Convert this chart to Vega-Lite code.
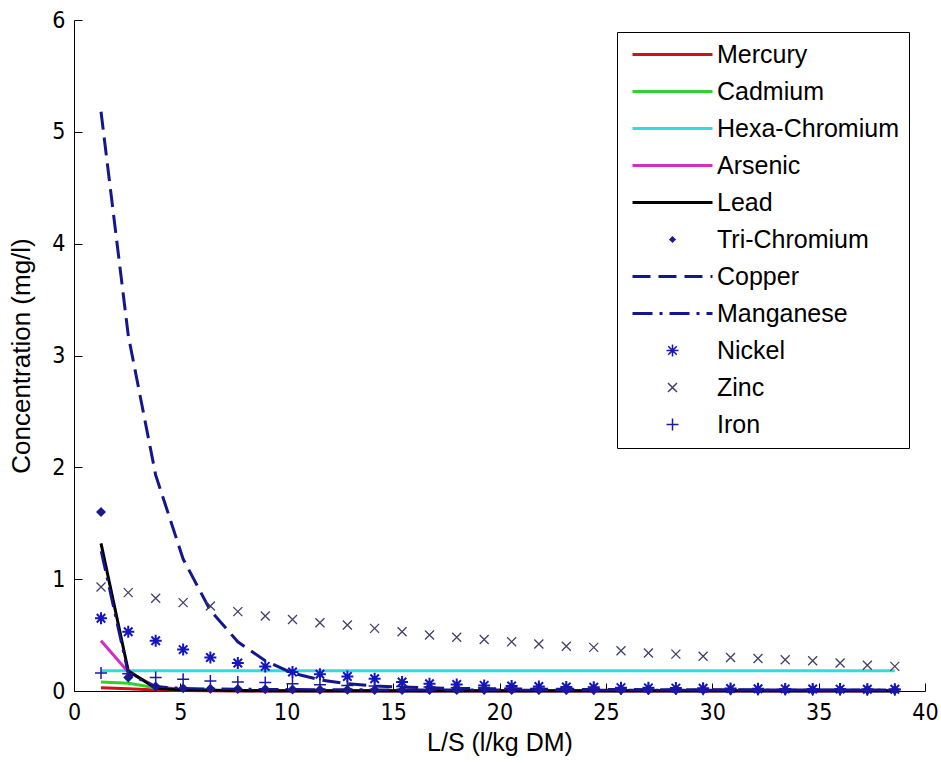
{
  "$schema": "https://vega.github.io/schema/vega-lite/v6.json",
  "width": 851,
  "height": 671,
  "autosize": {"type": "none"},
  "padding": {"left": 74, "top": 20, "right": 16, "bottom": 72},
  "background": "white",
  "config": {
    "view": {"stroke": null},
    "axis": {
      "grid": false,
      "domainColor": "black",
      "domainWidth": 1,
      "tickColor": "black",
      "tickWidth": 1,
      "tickSize": -8,
      "labelColor": "black",
      "labelFont": "Liberation Sans Narrow, DejaVu Sans Condensed, Liberation Sans",
      "labelFontSize": 23,
      "labelFlush": false,
      "labelOverlap": false,
      "titleColor": "black",
      "titleFont": "Liberation Sans",
      "titleFontSize": 25,
      "titleFontWeight": "normal"
    }
  },
  "data": {"values": [
    {"metal":"Mercury","ls":1.27,"conc":0.03},{"metal":"Mercury","ls":2.55,"conc":0.02},{"metal":"Mercury","ls":3.84,"conc":0.008},{"metal":"Mercury","ls":5.13,"conc":0.004},{"metal":"Mercury","ls":6.41,"conc":0.002},{"metal":"Mercury","ls":7.7,"conc":0.001},{"metal":"Mercury","ls":8.99,"conc":0.001},{"metal":"Mercury","ls":10.27,"conc":0.001},{"metal":"Mercury","ls":11.56,"conc":0.001},{"metal":"Mercury","ls":12.85,"conc":0.001},{"metal":"Mercury","ls":14.13,"conc":0.001},{"metal":"Mercury","ls":15.42,"conc":0.001},{"metal":"Mercury","ls":16.71,"conc":0.001},{"metal":"Mercury","ls":17.99,"conc":0.001},{"metal":"Mercury","ls":19.28,"conc":0.001},{"metal":"Mercury","ls":20.57,"conc":0.001},{"metal":"Mercury","ls":21.85,"conc":0.001},{"metal":"Mercury","ls":23.14,"conc":0.001},{"metal":"Mercury","ls":24.43,"conc":0.001},{"metal":"Mercury","ls":25.71,"conc":0.001},{"metal":"Mercury","ls":27.0,"conc":0.001},{"metal":"Mercury","ls":28.29,"conc":0.001},{"metal":"Mercury","ls":29.57,"conc":0.001},{"metal":"Mercury","ls":30.86,"conc":0.001},{"metal":"Mercury","ls":32.15,"conc":0.001},{"metal":"Mercury","ls":33.43,"conc":0.001},{"metal":"Mercury","ls":34.72,"conc":0.001},{"metal":"Mercury","ls":36.01,"conc":0.001},{"metal":"Mercury","ls":37.29,"conc":0.001},{"metal":"Mercury","ls":38.58,"conc":0.001},
    {"metal":"Cadmium","ls":1.27,"conc":0.08},{"metal":"Cadmium","ls":2.55,"conc":0.07},{"metal":"Cadmium","ls":3.84,"conc":0.03},{"metal":"Cadmium","ls":5.13,"conc":0.012},{"metal":"Cadmium","ls":6.41,"conc":0.006},{"metal":"Cadmium","ls":7.7,"conc":0.003},{"metal":"Cadmium","ls":8.99,"conc":0.002},{"metal":"Cadmium","ls":10.27,"conc":0.001},{"metal":"Cadmium","ls":11.56,"conc":0.001},{"metal":"Cadmium","ls":12.85,"conc":0.001},{"metal":"Cadmium","ls":14.13,"conc":0.001},{"metal":"Cadmium","ls":15.42,"conc":0.001},{"metal":"Cadmium","ls":16.71,"conc":0.001},{"metal":"Cadmium","ls":17.99,"conc":0.001},{"metal":"Cadmium","ls":19.28,"conc":0.001},{"metal":"Cadmium","ls":20.57,"conc":0.001},{"metal":"Cadmium","ls":21.85,"conc":0.001},{"metal":"Cadmium","ls":23.14,"conc":0.001},{"metal":"Cadmium","ls":24.43,"conc":0.001},{"metal":"Cadmium","ls":25.71,"conc":0.001},{"metal":"Cadmium","ls":27.0,"conc":0.001},{"metal":"Cadmium","ls":28.29,"conc":0.001},{"metal":"Cadmium","ls":29.57,"conc":0.001},{"metal":"Cadmium","ls":30.86,"conc":0.001},{"metal":"Cadmium","ls":32.15,"conc":0.001},{"metal":"Cadmium","ls":33.43,"conc":0.001},{"metal":"Cadmium","ls":34.72,"conc":0.001},{"metal":"Cadmium","ls":36.01,"conc":0.001},{"metal":"Cadmium","ls":37.29,"conc":0.001},{"metal":"Cadmium","ls":38.58,"conc":0.001},
    {"metal":"Hexa-Chromium","ls":1.27,"conc":0.18},{"metal":"Hexa-Chromium","ls":2.55,"conc":0.18},{"metal":"Hexa-Chromium","ls":3.84,"conc":0.18},{"metal":"Hexa-Chromium","ls":5.13,"conc":0.18},{"metal":"Hexa-Chromium","ls":6.41,"conc":0.18},{"metal":"Hexa-Chromium","ls":7.7,"conc":0.18},{"metal":"Hexa-Chromium","ls":8.99,"conc":0.18},{"metal":"Hexa-Chromium","ls":10.27,"conc":0.18},{"metal":"Hexa-Chromium","ls":11.56,"conc":0.18},{"metal":"Hexa-Chromium","ls":12.85,"conc":0.18},{"metal":"Hexa-Chromium","ls":14.13,"conc":0.18},{"metal":"Hexa-Chromium","ls":15.42,"conc":0.18},{"metal":"Hexa-Chromium","ls":16.71,"conc":0.18},{"metal":"Hexa-Chromium","ls":17.99,"conc":0.18},{"metal":"Hexa-Chromium","ls":19.28,"conc":0.18},{"metal":"Hexa-Chromium","ls":20.57,"conc":0.18},{"metal":"Hexa-Chromium","ls":21.85,"conc":0.18},{"metal":"Hexa-Chromium","ls":23.14,"conc":0.18},{"metal":"Hexa-Chromium","ls":24.43,"conc":0.18},{"metal":"Hexa-Chromium","ls":25.71,"conc":0.18},{"metal":"Hexa-Chromium","ls":27.0,"conc":0.18},{"metal":"Hexa-Chromium","ls":28.29,"conc":0.18},{"metal":"Hexa-Chromium","ls":29.57,"conc":0.18},{"metal":"Hexa-Chromium","ls":30.86,"conc":0.18},{"metal":"Hexa-Chromium","ls":32.15,"conc":0.18},{"metal":"Hexa-Chromium","ls":33.43,"conc":0.18},{"metal":"Hexa-Chromium","ls":34.72,"conc":0.18},{"metal":"Hexa-Chromium","ls":36.01,"conc":0.18},{"metal":"Hexa-Chromium","ls":37.29,"conc":0.18},{"metal":"Hexa-Chromium","ls":38.58,"conc":0.18},
    {"metal":"Arsenic","ls":1.27,"conc":0.45},{"metal":"Arsenic","ls":2.55,"conc":0.17},{"metal":"Arsenic","ls":3.84,"conc":0.04},{"metal":"Arsenic","ls":5.13,"conc":0.012},{"metal":"Arsenic","ls":6.41,"conc":0.005},{"metal":"Arsenic","ls":7.7,"conc":0.003},{"metal":"Arsenic","ls":8.99,"conc":0.002},{"metal":"Arsenic","ls":10.27,"conc":0.001},{"metal":"Arsenic","ls":11.56,"conc":0.001},{"metal":"Arsenic","ls":12.85,"conc":0.001},{"metal":"Arsenic","ls":14.13,"conc":0.001},{"metal":"Arsenic","ls":15.42,"conc":0.001},{"metal":"Arsenic","ls":16.71,"conc":0.001},{"metal":"Arsenic","ls":17.99,"conc":0.001},{"metal":"Arsenic","ls":19.28,"conc":0.001},{"metal":"Arsenic","ls":20.57,"conc":0.001},{"metal":"Arsenic","ls":21.85,"conc":0.001},{"metal":"Arsenic","ls":23.14,"conc":0.001},{"metal":"Arsenic","ls":24.43,"conc":0.001},{"metal":"Arsenic","ls":25.71,"conc":0.001},{"metal":"Arsenic","ls":27.0,"conc":0.001},{"metal":"Arsenic","ls":28.29,"conc":0.001},{"metal":"Arsenic","ls":29.57,"conc":0.001},{"metal":"Arsenic","ls":30.86,"conc":0.001},{"metal":"Arsenic","ls":32.15,"conc":0.001},{"metal":"Arsenic","ls":33.43,"conc":0.001},{"metal":"Arsenic","ls":34.72,"conc":0.001},{"metal":"Arsenic","ls":36.01,"conc":0.001},{"metal":"Arsenic","ls":37.29,"conc":0.001},{"metal":"Arsenic","ls":38.58,"conc":0.001},
    {"metal":"Lead","ls":1.27,"conc":1.32},{"metal":"Lead","ls":2.55,"conc":0.18},{"metal":"Lead","ls":3.84,"conc":0.025},{"metal":"Lead","ls":5.13,"conc":0.01},{"metal":"Lead","ls":6.41,"conc":0.006},{"metal":"Lead","ls":7.7,"conc":0.004},{"metal":"Lead","ls":8.99,"conc":0.003},{"metal":"Lead","ls":10.27,"conc":0.002},{"metal":"Lead","ls":11.56,"conc":0.002},{"metal":"Lead","ls":12.85,"conc":0.002},{"metal":"Lead","ls":14.13,"conc":0.002},{"metal":"Lead","ls":15.42,"conc":0.002},{"metal":"Lead","ls":16.71,"conc":0.002},{"metal":"Lead","ls":17.99,"conc":0.002},{"metal":"Lead","ls":19.28,"conc":0.002},{"metal":"Lead","ls":20.57,"conc":0.002},{"metal":"Lead","ls":21.85,"conc":0.002},{"metal":"Lead","ls":23.14,"conc":0.002},{"metal":"Lead","ls":24.43,"conc":0.002},{"metal":"Lead","ls":25.71,"conc":0.002},{"metal":"Lead","ls":27.0,"conc":0.002},{"metal":"Lead","ls":28.29,"conc":0.002},{"metal":"Lead","ls":29.57,"conc":0.002},{"metal":"Lead","ls":30.86,"conc":0.002},{"metal":"Lead","ls":32.15,"conc":0.002},{"metal":"Lead","ls":33.43,"conc":0.002},{"metal":"Lead","ls":34.72,"conc":0.002},{"metal":"Lead","ls":36.01,"conc":0.002},{"metal":"Lead","ls":37.29,"conc":0.002},{"metal":"Lead","ls":38.58,"conc":0.002},
    {"metal":"Tri-Chromium","ls":1.27,"conc":1.6},{"metal":"Tri-Chromium","ls":2.55,"conc":0.12},{"metal":"Tri-Chromium","ls":3.84,"conc":0.04},{"metal":"Tri-Chromium","ls":5.13,"conc":0.025},{"metal":"Tri-Chromium","ls":6.41,"conc":0.02},{"metal":"Tri-Chromium","ls":7.7,"conc":0.017},{"metal":"Tri-Chromium","ls":8.99,"conc":0.015},{"metal":"Tri-Chromium","ls":10.27,"conc":0.013},{"metal":"Tri-Chromium","ls":11.56,"conc":0.012},{"metal":"Tri-Chromium","ls":12.85,"conc":0.011},{"metal":"Tri-Chromium","ls":14.13,"conc":0.01},{"metal":"Tri-Chromium","ls":15.42,"conc":0.01},{"metal":"Tri-Chromium","ls":16.71,"conc":0.01},{"metal":"Tri-Chromium","ls":17.99,"conc":0.01},{"metal":"Tri-Chromium","ls":19.28,"conc":0.01},{"metal":"Tri-Chromium","ls":20.57,"conc":0.01},{"metal":"Tri-Chromium","ls":21.85,"conc":0.01},{"metal":"Tri-Chromium","ls":23.14,"conc":0.01},{"metal":"Tri-Chromium","ls":24.43,"conc":0.01},{"metal":"Tri-Chromium","ls":25.71,"conc":0.01},{"metal":"Tri-Chromium","ls":27.0,"conc":0.01},{"metal":"Tri-Chromium","ls":28.29,"conc":0.01},{"metal":"Tri-Chromium","ls":29.57,"conc":0.01},{"metal":"Tri-Chromium","ls":30.86,"conc":0.01},{"metal":"Tri-Chromium","ls":32.15,"conc":0.01},{"metal":"Tri-Chromium","ls":33.43,"conc":0.01},{"metal":"Tri-Chromium","ls":34.72,"conc":0.01},{"metal":"Tri-Chromium","ls":36.01,"conc":0.01},{"metal":"Tri-Chromium","ls":37.29,"conc":0.01},{"metal":"Tri-Chromium","ls":38.58,"conc":0.01},
    {"metal":"Copper","ls":1.27,"conc":5.18},{"metal":"Copper","ls":2.55,"conc":3.18},{"metal":"Copper","ls":3.84,"conc":1.93},{"metal":"Copper","ls":5.13,"conc":1.18},{"metal":"Copper","ls":6.41,"conc":0.72},{"metal":"Copper","ls":7.7,"conc":0.44},{"metal":"Copper","ls":8.99,"conc":0.27},{"metal":"Copper","ls":10.27,"conc":0.16},{"metal":"Copper","ls":11.56,"conc":0.1},{"metal":"Copper","ls":12.85,"conc":0.065},{"metal":"Copper","ls":14.13,"conc":0.045},{"metal":"Copper","ls":15.42,"conc":0.035},{"metal":"Copper","ls":16.71,"conc":0.028},{"metal":"Copper","ls":17.99,"conc":0.023},{"metal":"Copper","ls":19.28,"conc":0.02},{"metal":"Copper","ls":20.57,"conc":0.018},{"metal":"Copper","ls":21.85,"conc":0.016},{"metal":"Copper","ls":23.14,"conc":0.015},{"metal":"Copper","ls":24.43,"conc":0.014},{"metal":"Copper","ls":25.71,"conc":0.013},{"metal":"Copper","ls":27.0,"conc":0.012},{"metal":"Copper","ls":28.29,"conc":0.012},{"metal":"Copper","ls":29.57,"conc":0.011},{"metal":"Copper","ls":30.86,"conc":0.011},{"metal":"Copper","ls":32.15,"conc":0.01},{"metal":"Copper","ls":33.43,"conc":0.01},{"metal":"Copper","ls":34.72,"conc":0.01},{"metal":"Copper","ls":36.01,"conc":0.01},{"metal":"Copper","ls":37.29,"conc":0.01},{"metal":"Copper","ls":38.58,"conc":0.01},
    {"metal":"Manganese","ls":1.27,"conc":1.25},{"metal":"Manganese","ls":2.55,"conc":0.15},{"metal":"Manganese","ls":3.84,"conc":0.04},{"metal":"Manganese","ls":5.13,"conc":0.025},{"metal":"Manganese","ls":6.41,"conc":0.02},{"metal":"Manganese","ls":7.7,"conc":0.018},{"metal":"Manganese","ls":8.99,"conc":0.016},{"metal":"Manganese","ls":10.27,"conc":0.015},{"metal":"Manganese","ls":11.56,"conc":0.014},{"metal":"Manganese","ls":12.85,"conc":0.013},{"metal":"Manganese","ls":14.13,"conc":0.012},{"metal":"Manganese","ls":15.42,"conc":0.012},{"metal":"Manganese","ls":16.71,"conc":0.011},{"metal":"Manganese","ls":17.99,"conc":0.011},{"metal":"Manganese","ls":19.28,"conc":0.011},{"metal":"Manganese","ls":20.57,"conc":0.01},{"metal":"Manganese","ls":21.85,"conc":0.01},{"metal":"Manganese","ls":23.14,"conc":0.01},{"metal":"Manganese","ls":24.43,"conc":0.01},{"metal":"Manganese","ls":25.71,"conc":0.01},{"metal":"Manganese","ls":27.0,"conc":0.01},{"metal":"Manganese","ls":28.29,"conc":0.01},{"metal":"Manganese","ls":29.57,"conc":0.01},{"metal":"Manganese","ls":30.86,"conc":0.01},{"metal":"Manganese","ls":32.15,"conc":0.01},{"metal":"Manganese","ls":33.43,"conc":0.01},{"metal":"Manganese","ls":34.72,"conc":0.01},{"metal":"Manganese","ls":36.01,"conc":0.01},{"metal":"Manganese","ls":37.29,"conc":0.01},{"metal":"Manganese","ls":38.58,"conc":0.01},
    {"metal":"Nickel","ls":1.27,"conc":0.65},{"metal":"Nickel","ls":2.55,"conc":0.53},{"metal":"Nickel","ls":3.84,"conc":0.45},{"metal":"Nickel","ls":5.13,"conc":0.37},{"metal":"Nickel","ls":6.41,"conc":0.3},{"metal":"Nickel","ls":7.7,"conc":0.25},{"metal":"Nickel","ls":8.99,"conc":0.22},{"metal":"Nickel","ls":10.27,"conc":0.17},{"metal":"Nickel","ls":11.56,"conc":0.15},{"metal":"Nickel","ls":12.85,"conc":0.13},{"metal":"Nickel","ls":14.13,"conc":0.11},{"metal":"Nickel","ls":15.42,"conc":0.08},{"metal":"Nickel","ls":16.71,"conc":0.065},{"metal":"Nickel","ls":17.99,"conc":0.058},{"metal":"Nickel","ls":19.28,"conc":0.05},{"metal":"Nickel","ls":20.57,"conc":0.045},{"metal":"Nickel","ls":21.85,"conc":0.04},{"metal":"Nickel","ls":23.14,"conc":0.036},{"metal":"Nickel","ls":24.43,"conc":0.033},{"metal":"Nickel","ls":25.71,"conc":0.03},{"metal":"Nickel","ls":27.0,"conc":0.028},{"metal":"Nickel","ls":28.29,"conc":0.026},{"metal":"Nickel","ls":29.57,"conc":0.024},{"metal":"Nickel","ls":30.86,"conc":0.022},{"metal":"Nickel","ls":32.15,"conc":0.02},{"metal":"Nickel","ls":33.43,"conc":0.019},{"metal":"Nickel","ls":34.72,"conc":0.018},{"metal":"Nickel","ls":36.01,"conc":0.017},{"metal":"Nickel","ls":37.29,"conc":0.016},{"metal":"Nickel","ls":38.58,"conc":0.015},
    {"metal":"Zinc","ls":1.27,"conc":0.93},{"metal":"Zinc","ls":2.55,"conc":0.88},{"metal":"Zinc","ls":3.84,"conc":0.83},{"metal":"Zinc","ls":5.13,"conc":0.79},{"metal":"Zinc","ls":6.41,"conc":0.76},{"metal":"Zinc","ls":7.7,"conc":0.71},{"metal":"Zinc","ls":8.99,"conc":0.67},{"metal":"Zinc","ls":10.27,"conc":0.64},{"metal":"Zinc","ls":11.56,"conc":0.61},{"metal":"Zinc","ls":12.85,"conc":0.59},{"metal":"Zinc","ls":14.13,"conc":0.56},{"metal":"Zinc","ls":15.42,"conc":0.53},{"metal":"Zinc","ls":16.71,"conc":0.5},{"metal":"Zinc","ls":17.99,"conc":0.48},{"metal":"Zinc","ls":19.28,"conc":0.46},{"metal":"Zinc","ls":20.57,"conc":0.44},{"metal":"Zinc","ls":21.85,"conc":0.42},{"metal":"Zinc","ls":23.14,"conc":0.4},{"metal":"Zinc","ls":24.43,"conc":0.39},{"metal":"Zinc","ls":25.71,"conc":0.36},{"metal":"Zinc","ls":27.0,"conc":0.34},{"metal":"Zinc","ls":28.29,"conc":0.33},{"metal":"Zinc","ls":29.57,"conc":0.31},{"metal":"Zinc","ls":30.86,"conc":0.3},{"metal":"Zinc","ls":32.15,"conc":0.29},{"metal":"Zinc","ls":33.43,"conc":0.28},{"metal":"Zinc","ls":34.72,"conc":0.27},{"metal":"Zinc","ls":36.01,"conc":0.25},{"metal":"Zinc","ls":37.29,"conc":0.23},{"metal":"Zinc","ls":38.58,"conc":0.22},
    {"metal":"Iron","ls":1.27,"conc":0.16},{"metal":"Iron","ls":2.55,"conc":0.155},{"metal":"Iron","ls":3.84,"conc":0.12},{"metal":"Iron","ls":5.13,"conc":0.105},{"metal":"Iron","ls":6.41,"conc":0.09},{"metal":"Iron","ls":7.7,"conc":0.08},{"metal":"Iron","ls":8.99,"conc":0.075},{"metal":"Iron","ls":10.27,"conc":0.065},{"metal":"Iron","ls":11.56,"conc":0.055},{"metal":"Iron","ls":12.85,"conc":0.05},{"metal":"Iron","ls":14.13,"conc":0.045},{"metal":"Iron","ls":15.42,"conc":0.04},{"metal":"Iron","ls":16.71,"conc":0.035},{"metal":"Iron","ls":17.99,"conc":0.03},{"metal":"Iron","ls":19.28,"conc":0.028},{"metal":"Iron","ls":20.57,"conc":0.026},{"metal":"Iron","ls":21.85,"conc":0.024},{"metal":"Iron","ls":23.14,"conc":0.022},{"metal":"Iron","ls":24.43,"conc":0.02},{"metal":"Iron","ls":25.71,"conc":0.019},{"metal":"Iron","ls":27.0,"conc":0.018},{"metal":"Iron","ls":28.29,"conc":0.017},{"metal":"Iron","ls":29.57,"conc":0.016},{"metal":"Iron","ls":30.86,"conc":0.015},{"metal":"Iron","ls":32.15,"conc":0.014},{"metal":"Iron","ls":33.43,"conc":0.013},{"metal":"Iron","ls":34.72,"conc":0.012},{"metal":"Iron","ls":36.01,"conc":0.012},{"metal":"Iron","ls":37.29,"conc":0.011},{"metal":"Iron","ls":38.58,"conc":0.011}
  ]},
  "encoding": {
    "x": {
      "field": "ls", "type": "quantitative",
      "scale": {"domain": [0, 40], "nice": false, "zero": false},
      "axis": {"title": "L/S (l/kg DM)", "values": [0, 5, 10, 15, 20, 25, 30, 35, 40], "labelPadding": 18, "titlePadding": 6}
    },
    "y": {
      "field": "conc", "type": "quantitative",
      "scale": {"domain": [0, 6], "nice": false},
      "axis": {"title": "Concentration (mg/l)", "values": [0, 1, 2, 3, 4, 5, 6], "labelPadding": 17, "titlePadding": 17, "titleFontSize": 26}
    },
    "color": {
      "field": "metal", "type": "nominal",
      "scale": {
        "domain": ["Mercury", "Cadmium", "Hexa-Chromium", "Arsenic", "Lead", "Tri-Chromium", "Copper", "Manganese", "Nickel", "Zinc", "Iron"],
        "range": ["#d0101c", "#30d030", "#30dcdc", "#d030c0", "#000000", "#1a1a90", "#16168c", "#16168c", "#1515c0", "#404068", "#1a1aa0"]
      },
      "legend": {
        "title": null,
        "orient": "none",
        "legendX": 543,
        "legendY": 12,
        "padding": 10,
        "strokeColor": "black",
        "fillColor": "white",
        "labelFont": "Liberation Sans",
        "labelFontSize": 25,
        "labelColor": "black",
        "labelLimit": 400,
        "symbolSize": 100,
        "symbolOffset": 33,
        "labelOffset": 32,
        "rowPadding": 11,
        "encode": {
          "symbols": {
            "update": {
              "shape": {"signal": "datum.value === 'Tri-Chromium' ? 'M0,-0.5L0.5,0L0,0.5L-0.5,0Z' : datum.value === 'Nickel' ? 'M-1.2,0L1.2,0M0,-1.2L0,1.2M-0.85,-0.85L0.85,0.85M-0.85,0.85L0.85,-0.85' : datum.value === 'Zinc' ? 'M-0.9,-0.9L0.9,0.9M-0.9,0.9L0.9,-0.9' : datum.value === 'Iron' ? 'M-1.2,0L1.2,0M0,-1.2L0,1.2' : 'M-8,0L8,0'"},
              "strokeDash": {"signal": "datum.value === 'Copper' ? [18,8] : datum.value === 'Manganese' ? [20,7,3,7] : [1,0]"},
              "strokeWidth": {"signal": "indexof(['Tri-Chromium','Nickel','Zinc','Iron'], datum.value) >= 0 ? 1.5 : 3"},
              "fill": {"signal": "datum.value === 'Tri-Chromium' ? '#1a1a90' : 'transparent'"},
              "stroke": {"scale": "color", "field": "value"},
              "opacity": {"value": 1}
            }
          }
        }
      }
    }
  },
  "layer": [
    {
      "transform": [{"filter": {"field": "metal", "oneOf": ["Mercury", "Cadmium", "Hexa-Chromium", "Arsenic", "Lead"]}}],
      "mark": {"type": "line", "strokeWidth": 3}
    },
    {
      "transform": [{"filter": {"field": "metal", "equal": "Tri-Chromium"}}],
      "mark": {"type": "point", "filled": true, "size": 100, "opacity": 1, "strokeWidth": 1.5, "shape": "M0,-1L1,0L0,1L-1,0Z"}
    },
    {
      "transform": [{"filter": {"field": "metal", "equal": "Copper"}}],
      "mark": {"type": "line", "strokeWidth": 3, "strokeDash": [18, 8]}
    },
    {
      "transform": [{"filter": {"field": "metal", "equal": "Manganese"}}],
      "mark": {"type": "line", "strokeWidth": 2.5, "strokeDash": [20, 7, 3, 7]}
    },
    {
      "transform": [{"filter": {"field": "metal", "equal": "Nickel"}}],
      "mark": {"type": "point", "filled": false, "size": 100, "opacity": 1, "strokeWidth": 2, "shape": "M-1.2,0L1.2,0M0,-1.2L0,1.2M-0.85,-0.85L0.85,0.85M-0.85,0.85L0.85,-0.85"}
    },
    {
      "transform": [{"filter": {"field": "metal", "equal": "Zinc"}}],
      "mark": {"type": "point", "filled": false, "size": 100, "opacity": 1, "strokeWidth": 1.3, "shape": "M-0.9,-0.9L0.9,0.9M-0.9,0.9L0.9,-0.9"}
    },
    {
      "transform": [{"filter": {"field": "metal", "equal": "Iron"}}],
      "mark": {"type": "point", "filled": false, "size": 100, "opacity": 1, "strokeWidth": 1.5, "shape": "M-1.2,0L1.2,0M0,-1.2L0,1.2"}
    }
  ]
}
